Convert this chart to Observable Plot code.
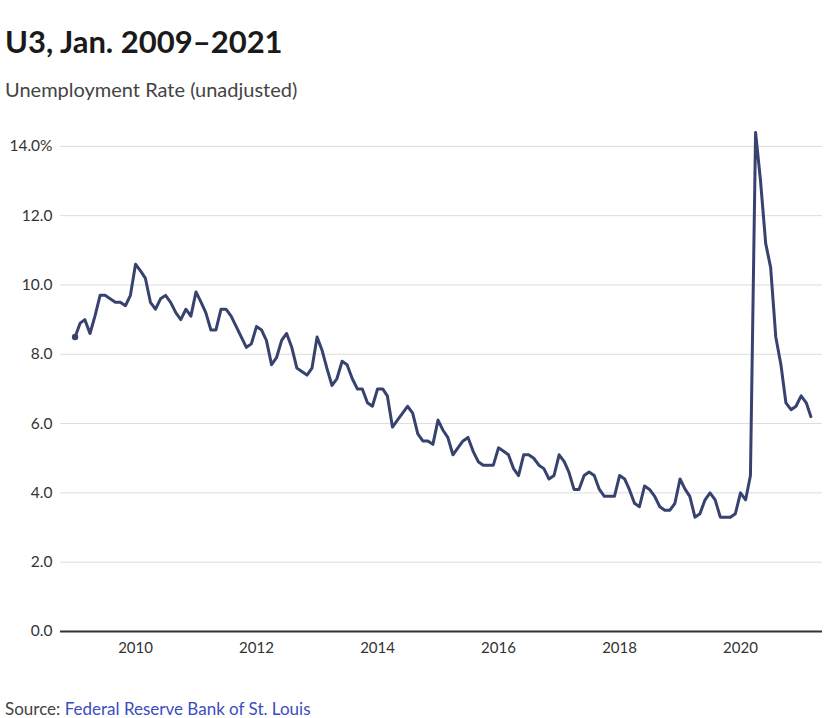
<!DOCTYPE html>
<html>
<head>
<meta charset="utf-8">
<script src="https://cdn.jsdelivr.net/npm/d3@7"></script>
<script src="https://cdn.jsdelivr.net/npm/@observablehq/plot@0.6"></script>
<style>
  html, body { margin: 0; padding: 0; background: #fff; }
  body { width: 833px; height: 718px; position: relative; overflow: hidden; font-family: Lato, "Open Sans", sans-serif; }
  #title { position: absolute; left: 5px; top: 23px; font-size: 31px; line-height: 37px; font-weight: 700; color: #1a1a1a; white-space: nowrap; }
  #subtitle { position: absolute; left: 5px; top: 77px; font-size: 20px; line-height: 24px; color: #444; white-space: nowrap; }
  #chart { position: absolute; left: 0; top: 110px; }
  #source { position: absolute; left: 5px; top: 699px; font-size: 17px; line-height: 20px; color: #444; white-space: nowrap; }
  #source span { color: #3a4dc0; }
</style>
</head>
<body>
<div id="title">U3, Jan. 2009–2021</div>
<div id="subtitle">Unemployment Rate (unadjusted)</div>
<div id="chart"></div>
<div id="source">Source: <span>Federal Reserve Bank of St. Louis</span></div>
<script>
// Monthly unadjusted U3 unemployment rate, starting January 2009
const firstMonth = "2009-01-01";
const u3Rates = [
  8.5, 8.9, 9.0, 8.6, 9.1, 9.7, 9.7, 9.6, 9.5, 9.5, 9.4, 9.7,        // 2009
  10.6, 10.4, 10.2, 9.5, 9.3, 9.6, 9.7, 9.5, 9.2, 9.0, 9.3, 9.1,     // 2010
  9.8, 9.5, 9.2, 8.7, 8.7, 9.3, 9.3, 9.1, 8.8, 8.5, 8.2, 8.3,        // 2011
  8.8, 8.7, 8.4, 7.7, 7.9, 8.4, 8.6, 8.2, 7.6, 7.5, 7.4, 7.6,        // 2012
  8.5, 8.1, 7.6, 7.1, 7.3, 7.8, 7.7, 7.3, 7.0, 7.0, 6.6, 6.5,        // 2013
  7.0, 7.0, 6.8, 5.9, 6.1, 6.3, 6.5, 6.3, 5.7, 5.5, 5.5, 5.4,        // 2014
  6.1, 5.8, 5.6, 5.1, 5.3, 5.5, 5.6, 5.2, 4.9, 4.8, 4.8, 4.8,        // 2015
  5.3, 5.2, 5.1, 4.7, 4.5, 5.1, 5.1, 5.0, 4.8, 4.7, 4.4, 4.5,        // 2016
  5.1, 4.9, 4.6, 4.1, 4.1, 4.5, 4.6, 4.5, 4.1, 3.9, 3.9, 3.9,        // 2017
  4.5, 4.4, 4.1, 3.7, 3.6, 4.2, 4.1, 3.9, 3.6, 3.5, 3.5, 3.7,        // 2018
  4.4, 4.1, 3.9, 3.3, 3.4, 3.8, 4.0, 3.8, 3.3, 3.3, 3.3, 3.4,        // 2019
  4.0, 3.8, 4.5, 14.4, 13.0, 11.2, 10.5, 8.5, 7.7, 6.6, 6.4, 6.5,    // 2020
  6.8, 6.6, 6.2                                                      // 2021
];
const yTicks = [0, 2, 4, 6, 8, 10, 12, 14];
const xTickYears = [2010, 2012, 2014, 2016, 2018, 2020];

const start = new Date(firstMonth);
const data = u3Rates.map((v, i) => ({ date: d3.utcMonth.offset(start, i), rate: v }));

const chart = Plot.plot({
  width: 833,
  height: 561,
  marginTop: 22,
  marginBottom: 40,
  marginLeft: 60,
  marginRight: 11,
  style: { fontFamily: "Lato, 'Open Sans', sans-serif", fontSize: "15px", color: "#333", background: "transparent" },
  x: {
    type: "utc",
    domain: [new Date("2008-10-05"), new Date("2021-05-10")]
  },
  y: { domain: [0, 14.4] },
  marks: [
    Plot.gridY(yTicks, { stroke: "#dcdcdc", strokeOpacity: 1, strokeWidth: 1 }),
    Plot.axisY(yTicks, {
      tickSize: 0, tickPadding: 8, label: null, fontSize: 15.5,
      tickFormat: d => d === 14 ? d.toFixed(1) + "%" : d.toFixed(1)
    }),
    Plot.axisX(xTickYears.map(y => new Date(Date.UTC(y, 0, 1))), {
      tickSize: 0, tickPadding: 11, label: null, tickFormat: d3.utcFormat("%Y")
    }),
    Plot.ruleY([0], { stroke: "#333", strokeWidth: 2 }),
    Plot.lineY(data, { x: "date", y: "rate", stroke: "#38426e", strokeWidth: 3, strokeLinejoin: "round", strokeLinecap: "round" }),
    Plot.dot(data.slice(0, 1), { x: "date", y: "rate", r: 3.2, fill: "#38426e", stroke: null })
  ]
});
document.getElementById("chart").appendChild(chart);
</script>
</body>
</html>
